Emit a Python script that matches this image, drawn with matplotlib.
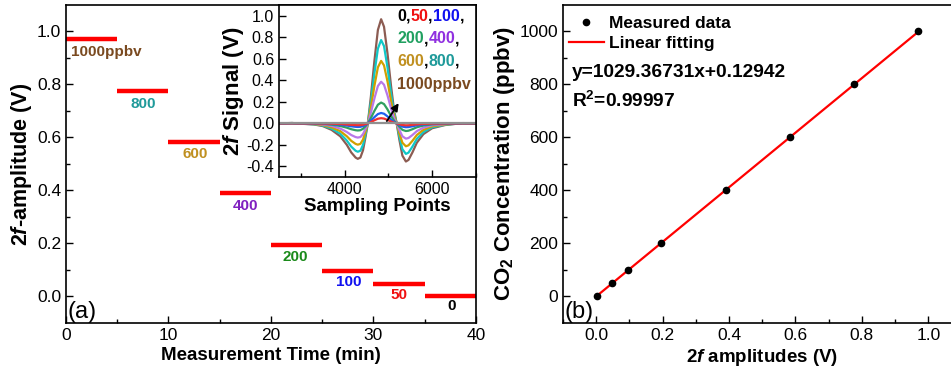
import numpy as np
import matplotlib
matplotlib.use("Agg")
import matplotlib.pyplot as plt
from matplotlib.offsetbox import TextArea, HPacker, VPacker, AnchoredOffsetbox

plt.rcParams["font.family"] = ["Liberation Sans", "DejaVu Sans"]
plt.rcParams["mathtext.fontset"] = "custom"
plt.rcParams["mathtext.rm"] = "Liberation Sans:bold"
plt.rcParams["mathtext.it"] = "Liberation Sans:italic:bold"
plt.rcParams["mathtext.bf"] = "Liberation Sans:bold"

# (a) step data: concentration steps, each held for 5 min
conc = [1000, 800, 600, 400, 200, 100, 50, 0]
t_start = [0, 5, 10, 15, 20, 25, 30, 35]
t_end = [5, 10, 15, 20, 25, 30, 35, 40]
amp = [0.970, 0.777, 0.584, 0.390, 0.194, 0.097, 0.047, 0.001]
step_labels = ["1000ppbv", "800", "600", "400", "200", "100", "50", "0"]
label_colors = ["#7a4a20", "#1f9a9a", "#c09020", "#8020c0", "#1a8a1a", "#1010f0", "#f01010", "#000000"]
label_x = [0.45, 7.5, 12.6, 17.5, 22.4, 27.6, 32.5, 37.6]
label_y = [0.921, 0.727, 0.539, 0.343, 0.150, 0.055, 0.005, -0.035]

# inset: 2f line shape of the 1000 ppbv trace
samp = [2500, 2800, 3000, 3300, 3500, 3700, 3900, 4050, 4150, 4250, 4300, 4360,
        4420, 4480, 4530, 4600, 4680, 4760, 4834, 4900, 4980, 5060, 5130, 5190,
        5250, 5320, 5400, 5460, 5550, 5650, 5800, 6000, 6300, 6700, 7000]
sig1000 = [0.0, 0.004, -0.003, -0.01, -0.025, -0.06, -0.12, -0.20, -0.27, -0.318, -0.33, -0.318,
           -0.25, -0.12, 0.0, 0.25, 0.58, 0.87, 0.97, 0.90, 0.65, 0.35, 0.12, 0.0,
           -0.15, -0.30, -0.355, -0.34, -0.27, -0.18, -0.10, -0.045, -0.015, 0.003, 0.0]
inset_conc = [1000, 800, 600, 400, 200, 100, 50, 0]
inset_colors = ["#8c5c52", "#10c8c8", "#d0a000", "#b878e8", "#30a060", "#2060f0", "#f03030", "#909090"]

# (b) calibration
cal_x = amp[::-1]
cal_y = conc[::-1]
slope, intercept = 1029.36731, 0.12942

fig = plt.figure(figsize=(9.51, 3.76), dpi=100)

def style(ax, size=12.5, lw=1.2):
    for s in ax.spines.values():
        s.set_linewidth(lw)
    ax.tick_params(which="both", direction="in", width=1.0, labelsize=size)
    ax.tick_params(which="major", length=5)
    ax.tick_params(which="minor", length=3)
    ax.tick_params(which="both", top=False, right=False)

# ---- (a)
ax1 = fig.add_axes([0.0694, 0.141, 0.431, 0.846])
for c, t0, t1, a in zip(conc, t_start, t_end, amp):
    ax1.hlines(a, t0, t1, color="red", lw=3.2)
for lab, col, x, y in zip(step_labels, label_colors, label_x, label_y):
    ha = "left" if lab.endswith("ppbv") else "center"
    ax1.text(x, y, lab, color=col, fontsize=11, fontweight="bold", ha=ha, va="center")
ax1.set_xlim(0, 40)
ax1.set_ylim(-0.1, 1.1)
ax1.set_xticks([0, 10, 20, 30, 40])
ax1.set_xticks([5, 15, 25, 35], minor=True)
ax1.set_yticks([0.0, 0.2, 0.4, 0.6, 0.8, 1.0])
ax1.set_yticks([0.1, 0.3, 0.5, 0.7, 0.9], minor=True)
ax1.set_yticklabels(["0.0", "0.2", "0.4", "0.6", "0.8", "1.0"])
style(ax1)
ax1.set_xlabel("Measurement Time (min)", fontsize=13.5, fontweight="bold", labelpad=3)
ax1.set_ylabel("2$\\mathit{f}$-amplitude (V)", fontsize=15.5, fontweight="bold", labelpad=2)
ax1.text(0.003, 0.0, "(a)", transform=ax1.transAxes, fontsize=17, ha="left", va="bottom")

# ---- inset
ax2 = fig.add_axes([0.2934, 0.529, 0.207, 0.457])
sig = np.array(sig1000)
for c, col in zip(inset_conc, inset_colors):
    ax2.plot(samp, sig * c / 1000.0, color=col, lw=1.6)
ax2.annotate("", xy=(5270, 0.21), xytext=(4930, 0.0),
             arrowprops=dict(arrowstyle="-|>", color="black", lw=1.3, mutation_scale=11))
ax2.set_xlim(2500, 7000)
ax2.set_ylim(-0.5, 1.1)
ax2.set_xticks([4000, 6000])
ax2.set_xticks([3000, 5000, 7000], minor=True)
ax2.set_yticks([-0.4, -0.2, 0.0, 0.2, 0.4, 0.6, 0.8, 1.0])
ax2.set_yticklabels(["-0.4", "-0.2", "0.0", "0.2", "0.4", "0.6", "0.8", "1.0"])
style(ax2, size=11.5)
ax2.set_xlabel("Sampling Points", fontsize=13.5, fontweight="bold", labelpad=1)
ax2.set_ylabel("2$\\mathit{f}$ Signal (V)", fontsize=16, fontweight="bold", labelpad=0)

rows = [[("0", "#000000"), (",", "#000000"), ("50", "#f01010"), (",", "#000000"), ("100", "#1010f0"), (",", "#000000")],
        [("200", "#20a060"), (",", "#000000"), ("400", "#9030e0"), (",", "#000000")],
        [("600", "#c09020"), (",", "#000000"), ("800", "#1f9a9a"), (",", "#000000")],
        [("1000ppbv", "#7a4a20")]]
vrows = []
for r in rows:
    parts = [TextArea(s, textprops=dict(color=col, fontsize=11.5, fontweight="bold")) for s, col in r]
    vrows.append(HPacker(children=parts, align="baseline", pad=0, sep=0))
box = VPacker(children=vrows, align="left", pad=0, sep=5.5)
ab = AnchoredOffsetbox(loc="upper left", child=box, frameon=False,
                       bbox_to_anchor=(0.60, 0.98), bbox_transform=ax2.transAxes, borderpad=0, pad=0)
ax2.add_artist(ab)

# ---- (b)
ax3 = fig.add_axes([0.592, 0.141, 0.419, 0.846])
xf = np.array([min(cal_x), max(cal_x)])
ax3.plot(cal_x, cal_y, "o", color="black", ms=4.5, label="Measured data", zorder=3)
ax3.plot(xf, slope * xf + intercept, color="red", lw=1.6, label="Linear fitting", zorder=2)
ax3.set_xlim(-0.1, 1.1)
ax3.set_ylim(-100, 1100)
ax3.set_xticks([0.0, 0.2, 0.4, 0.6, 0.8, 1.0])
ax3.set_xticklabels(["0.0", "0.2", "0.4", "0.6", "0.8", "1.0"])
ax3.set_xticks([-0.1, 0.1, 0.3, 0.5, 0.7, 0.9], minor=True)
ax3.set_yticks([0, 200, 400, 600, 800, 1000])
ax3.set_yticks([100, 300, 500, 700, 900], minor=True)
style(ax3)
ax3.set_xlabel("2$\\mathit{f}$ amplitudes (V)", fontsize=13.5, fontweight="bold", labelpad=3)
ax3.set_ylabel("CO$_{2}$ Concentration (ppbv)", fontsize=16, fontweight="bold", labelpad=2)
leg = ax3.legend(loc="upper left", frameon=False, prop=dict(size=12.5, weight="bold"),
                 handlelength=2.0, handletextpad=0.3, borderaxespad=0.35, borderpad=0.0,
                 labelspacing=0.3, bbox_to_anchor=(0.0, 0.985))
ax3.text(0.022, 0.787, "y=1029.36731x+0.12942", transform=ax3.transAxes,
         fontsize=13.8, fontweight="bold", ha="left", va="center")
ax3.text(0.022, 0.699, "R$^{2}$=0.99997", transform=ax3.transAxes,
         fontsize=13.8, fontweight="bold", ha="left", va="center")
ax3.text(0.003, 0.0, "(b)", transform=ax3.transAxes, fontsize=17, ha="left", va="bottom")

fig.savefig("out.png", dpi=100)
